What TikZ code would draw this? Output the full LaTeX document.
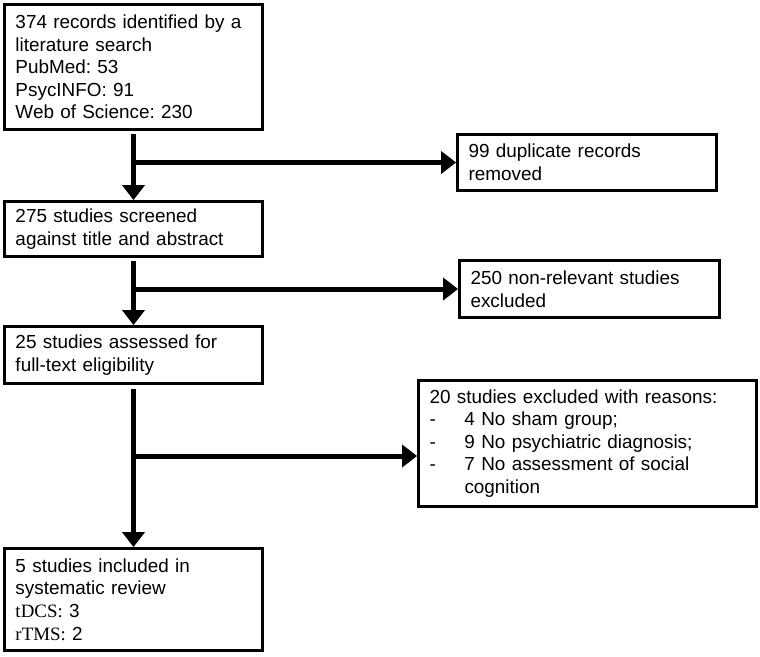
\documentclass[tikz,border=0pt]{standalone}
\usepackage{fontspec}
\setmainfont{Liberation Sans}
\newfontfamily\timesf{Liberation Serif}
\usetikzlibrary{arrows.meta}
\frenchspacing
\begin{document}
\begin{tikzpicture}[x=1pt,y=-1pt,
  box/.style={draw, line width=2.8pt, anchor=center, inner xsep=11pt, inner ysep=0pt,
    align=left, font=\fontsize{18.9}{22.6}\selectfont\frenchspacing},
  flow/.style={line width=5pt, -{Triangle[width=22pt,length=15pt]}}]
\useasboundingbox (0,0) rectangle (760,656);
% left column
\node[box, text width=236pt, minimum height=125pt] (b1) at (133.5,67)
  {374 records identified by a\\literature search\\PubMed: 53\\PsycINFO: 91\\Web of Science: 230};
\node[box, text width=236pt, minimum height=55pt] (b2) at (133.5,229)
  {275 studies screened\\against title and abstract};
\node[box, text width=236pt, minimum height=57pt] (b3) at (133.5,355)
  {25 studies assessed for\\full-text eligibility};
\node[box, text width=236pt, minimum height=102pt] (b4) at (133.5,599.5)
  {5 studies included in\\systematic review\\{\timesf tDCS:} 3\\{\timesf rTMS:} 2};
% right column
\node[box, text width=237pt, minimum height=56pt] (r1) at (587,162.5)
  {99 duplicate records\\removed};
\node[box, text width=238pt, minimum height=57pt] (r2) at (589.5,289)
  {250 non-relevant studies\\excluded};
\node[box, text width=316pt, minimum height=126pt] (r3) at (587.5,443.5)
  {20 studies excluded with reasons:\\
   \makebox[35pt][l]{-}4 No sham group;\\
   \makebox[35pt][l]{-}9 No psychiatric diagnosis;\\
   \makebox[35pt][l]{-}7 No assessment of social\\
   \hspace*{35pt}cognition};
% connectors
\draw[flow, shorten <=3pt] (b1.south) -- (b2.north);
\draw[flow] (b1.south |- r1.west) -- (r1.west);
\draw[flow, shorten <=3pt] (b2.south) -- (b3.north);
\draw[flow] (b2.south |- r2.west) -- (r2.west);
\draw[flow, shorten <=4pt] (b3.south) -- (b4.north);
\coordinate (j3) at (133.5,456);
\draw[flow] (j3) -- (j3 -| r3.west);
\end{tikzpicture}
\end{document}
